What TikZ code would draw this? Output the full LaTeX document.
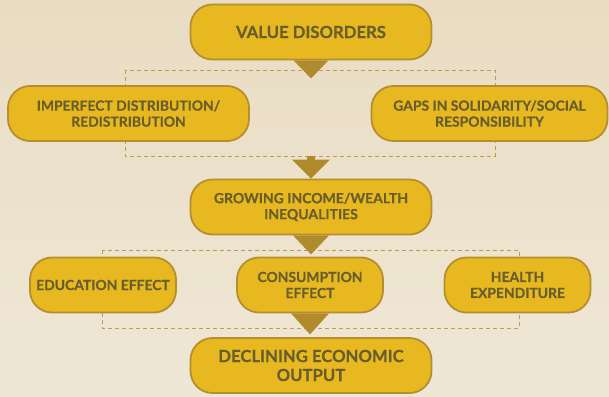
\documentclass[tikz,border=0pt]{standalone}
\usepackage{fontspec}
\setmainfont{Lato}
\newfontfamily\labfont[BoldFeatures={FakeBold=0.5}]{Lato}
\usetikzlibrary{calc}
\definecolor{bgtop}{RGB}{233,220,194}
\definecolor{bgbot}{RGB}{239,231,214}
\definecolor{boxfill}{RGB}{232,184,32}
\definecolor{boxline}{RGB}{181,143,47}
\definecolor{txt}{RGB}{104,94,44}
\definecolor{tricol}{RGB}{176,139,45}
\definecolor{framecol}{RGB}{190,155,80}
\begin{document}
\begin{tikzpicture}[x=1pt,y=-1pt,
  box/.style={draw=boxline, line width=1.8pt, fill=boxfill, rounded corners=22pt,
    text=txt, align=center, inner sep=0pt, minimum height=55pt,
    font=\labfont\bfseries\fontsize{13.9}{16}\selectfont},
  bigtext/.style={font=\labfont\bfseries\fontsize{16.7}{19}\selectfont},
  midtext/.style={font=\labfont\bfseries\fontsize{14}{16}\selectfont},
  tri/.style={fill=tricol},
  frame/.style={draw=framecol, dash pattern=on 4pt off 3pt, line width=1pt}]
\shade[top color=bgtop,bottom color=bgbot] (0,0) rectangle (609,396);
\useasboundingbox (0,0) rectangle (609,396);
% dashed frames
\draw[frame] (125,70) rectangle (495,156);
\draw[frame] (102,250) rectangle (519,328);
% boxes
\node[box, bigtext, minimum width=241pt] (vd) at (311,32) {VALUE DISORDERS};
\node[box, minimum width=241pt] (imp) at (128.5,113.5) {IMPERFECT DISTRIBUTION/\\REDISTRIBUTION};
\node[box, minimum width=236pt] (gap) at (489.5,113.5) {GAPS IN SOLIDARITY/SOCIAL\\RESPONSIBILITY};
\node[box, midtext, minimum width=241pt] (gr) at (311,207) {GROWING INCOME/WEALTH\\INEQUALITIES};
\node[box, minimum width=146pt] (edu) at (103,285) {EDUCATION EFFECT};
\node[box, minimum width=146pt] (con) at (310,285) {CONSUMPTION\\EFFECT};
\node[box, minimum width=146pt] (hea) at (517.5,285) {HEALTH\\EXPENDITURE};
\node[box, bigtext, minimum width=241pt] (dec) at (311,365.5) {DECLINING ECONOMIC\\OUTPUT};
% triangle connectors
\fill[tri] ($(vd.south)+(-17.5,0)$) -- ($(vd.south)+(17.5,0)$) -- ($(vd.south)+(0,18)$) -- cycle;
\fill[tri] ($(gr.north)+(-4,-23)$) rectangle ($(gr.north)+(4,-19)$);
\fill[tri] ($(gr.north)+(-19,-19)$) -- ($(gr.north)+(19,-19)$) -- (gr.north) -- cycle;
\fill[tri] ($(gr.south)+(-18,0)$) -- ($(gr.south)+(18,0)$) -- ($(gr.south)+(0,19)$) -- cycle;
\fill[tri] ($(con.south)+(-19,0)$) -- ($(con.south)+(19,0)$) -- ($(con.south)+(0,21)$) -- cycle;
\end{tikzpicture}
\end{document}
